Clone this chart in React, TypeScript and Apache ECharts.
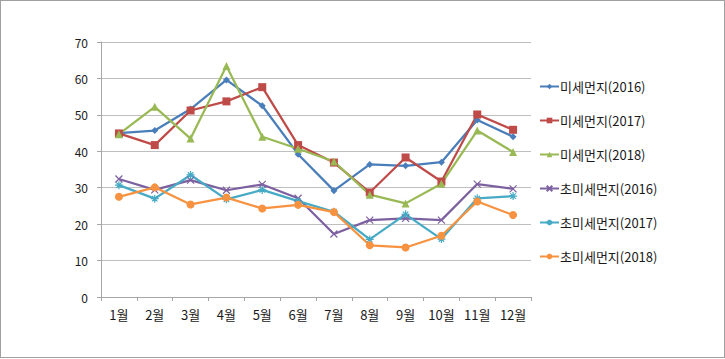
import React, { useEffect, useRef } from "react";
import * as echarts from "echarts";

const months = ["1월", "2월", "3월", "4월", "5월", "6월", "7월", "8월", "9월", "10월", "11월", "12월"];
const pm10_2016 = [45.0, 45.7, 51.6, 59.6, 52.5, 39.2, 29.2, 36.4, 36.0, 37.0, 48.6, 44.0];
const pm10_2017 = [44.9, 41.7, 51.2, 53.7, 57.6, 41.7, 36.9, 28.7, 38.3, 31.7, 50.1, 45.9];
const pm10_2018 = [44.7, 52.2, 43.5, 63.4, 44.0, 40.7, 37.2, 28.1, 25.7, 31.1, 45.7, 39.8];
const pm25_2016 = [32.4, 29.4, 32.1, 29.3, 30.9, 27.1, 17.3, 21.1, 21.6, 21.1, 31.0, 29.7];
const pm25_2017 = [30.7, 27.0, 33.5, 26.8, 29.4, 26.3, 23.4, 15.8, 22.7, 15.9, 27.1, 27.7];
const pm25_2018 = [27.5, 30.1, 25.4, 27.3, 24.3, 25.3, 23.3, 14.2, 13.6, 16.8, 26.2, 22.5];

const seriesNames = [
  "미세먼지(2016)",
  "미세먼지(2017)",
  "미세먼지(2018)",
  "초미세먼지(2016)",
  "초미세먼지(2017)",
  "초미세먼지(2018)",
];

const FONT = "'Noto Sans CJK KR', 'Noto Sans', sans-serif";

export default function App() {
  const ref = useRef<HTMLDivElement>(null);
  useEffect(() => {
    if (!ref.current) return;
    const chart = echarts.init(ref.current, undefined, { renderer: "svg" });
    const xSym = "path://M0,0L10,10M10,0L0,10";
    const starSym = "path://M5,0L5,10M0,5L10,5M1.6,1.6L8.4,8.4M8.4,1.6L1.6,8.4";
    const defs = [
      { data: pm10_2016, color: "#4A7EBB", symbol: "diamond", size: 7, stroke: false },
      { data: pm10_2017, color: "#BE4B48", symbol: "rect", size: 8, stroke: false },
      { data: pm10_2018, color: "#98B954", symbol: "triangle", size: 8, stroke: false },
      { data: pm25_2016, color: "#7D60A0", symbol: xSym, size: 7, stroke: true },
      { data: pm25_2017, color: "#46AAC5", symbol: starSym, size: 8, stroke: true },
      { data: pm25_2018, color: "#F69240", symbol: "circle", size: 8, stroke: false },
    ];
    chart.setOption({
      animation: false,
      backgroundColor: "#fff",
      textStyle: { fontFamily: FONT },
      grid: { left: 101, right: 194, top: 42, bottom: 62, containLabel: false },
      legend: {
        orient: "vertical",
        left: 534,
        top: 75,
        itemWidth: 19,
        itemHeight: 7,
        itemGap: 21,
        textStyle: { fontFamily: FONT, fontSize: 13, color: "#1a1a1a", padding: [0, 0, 0, -4] },
        data: seriesNames,
      },
      xAxis: {
        type: "category",
        data: months,
        boundaryGap: true,
        axisLine: { lineStyle: { color: "#a6a6a6", width: 1 } },
        axisTick: { show: true, length: 4, lineStyle: { color: "#a6a6a6" } },
        axisLabel: { color: "#1a1a1a", fontSize: 13, margin: 11, fontFamily: FONT },
        splitLine: { show: false },
      },
      yAxis: {
        type: "value",
        min: 0,
        max: 70,
        interval: 10,
        axisLine: { show: true, lineStyle: { color: "#a6a6a6", width: 1 } },
        axisTick: { show: true, length: 4, lineStyle: { color: "#a6a6a6" } },
        axisLabel: { color: "#1a1a1a", fontSize: 12, margin: 13, fontFamily: FONT },
        splitLine: { show: true, lineStyle: { color: "#bfbfbf", width: 1 } },
      },
      series: defs.map((d, i) => ({
        name: seriesNames[i],
        type: "line",
        data: d.data,
        symbol: d.symbol,
        symbolSize: d.size,
        showSymbol: true,
        lineStyle: { color: d.color, width: 2.25 },
        itemStyle: d.stroke
          ? { color: "rgba(0,0,0,0)", borderColor: d.color, borderWidth: 1.2 }
          : { color: d.color, borderWidth: 0 },
        emphasis: { disabled: true },
      })),
    });
    return () => chart.dispose();
  }, []);
  return (
    <div
      style={{
        position: "fixed",
        left: 0,
        top: 0,
        width: 725,
        height: 359,
        background: "#fff",
      }}
    >
      <div ref={ref} style={{ position: "absolute", left: 0, top: 0, width: 725, height: 359 }} />
      <div
        style={{
          position: "absolute",
          left: 0,
          top: 0,
          width: 725,
          height: 358,
          boxSizing: "border-box",
          border: "1px solid #a0a0a0",
          pointerEvents: "none",
        }}
      />
    </div>
  );
}
